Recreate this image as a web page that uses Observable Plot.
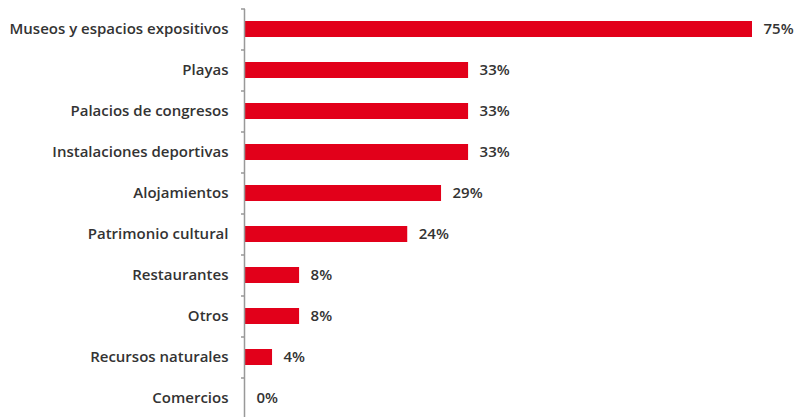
<!DOCTYPE html>
<html><head><meta charset="utf-8">
<script src="https://cdn.jsdelivr.net/npm/d3@7"></script>
<script src="https://cdn.jsdelivr.net/npm/@observablehq/plot@0.6"></script>
<style>body{margin:0;background:#fff}</style>
</head><body><div id="chart"></div>
<script>
const categories = ["Museos y espacios expositivos","Playas","Palacios de congresos","Instalaciones deportivas","Alojamientos","Patrimonio cultural","Restaurantes","Otros","Recursos naturales","Comercios"];
const values = [75,33,33,33,29,24,8,8,4,0];
const data = categories.map((c,i)=>({cat:c, v:values[i]}));
const font = "'Open Sans', Lato, sans-serif";
const step = (417 + 2 - 9) / categories.length;
const plot = Plot.plot({
  width: 798, height: 417,
  marginLeft: 245, marginRight: 46, marginTop: 9, marginBottom: -2,
  style: {fontFamily: font, background: "#fff"},
  x: {domain: [0, 75], axis: null},
  y: {domain: categories, paddingInner: 0.6, paddingOuter: 0.3, label: null},
  marks: [
    Plot.barX(data, {x: "v", y: "cat", fill: "#e2001a"}),
    Plot.text(data, {x: "v", y: "cat", text: d => d.v + "%", textAnchor: "start", dx: 11, fontSize: 15, fill: "#333", fontWeight: 600}),
    Plot.axisY({tickSize: 0, tickPadding: 17, fontSize: 15, fontWeight: 600, color: "#333", label: null}),
    Plot.axisY({tickSize: 4, tickFormat: () => "", dy: -step/2, stroke: "#999", strokeWidth: 1.5, label: null}),
    Plot.ruleX([0], {stroke: "#999", strokeWidth: 1.5, dx: -1})
  ]
});
document.getElementById("chart").appendChild(plot);
</script></body></html>
